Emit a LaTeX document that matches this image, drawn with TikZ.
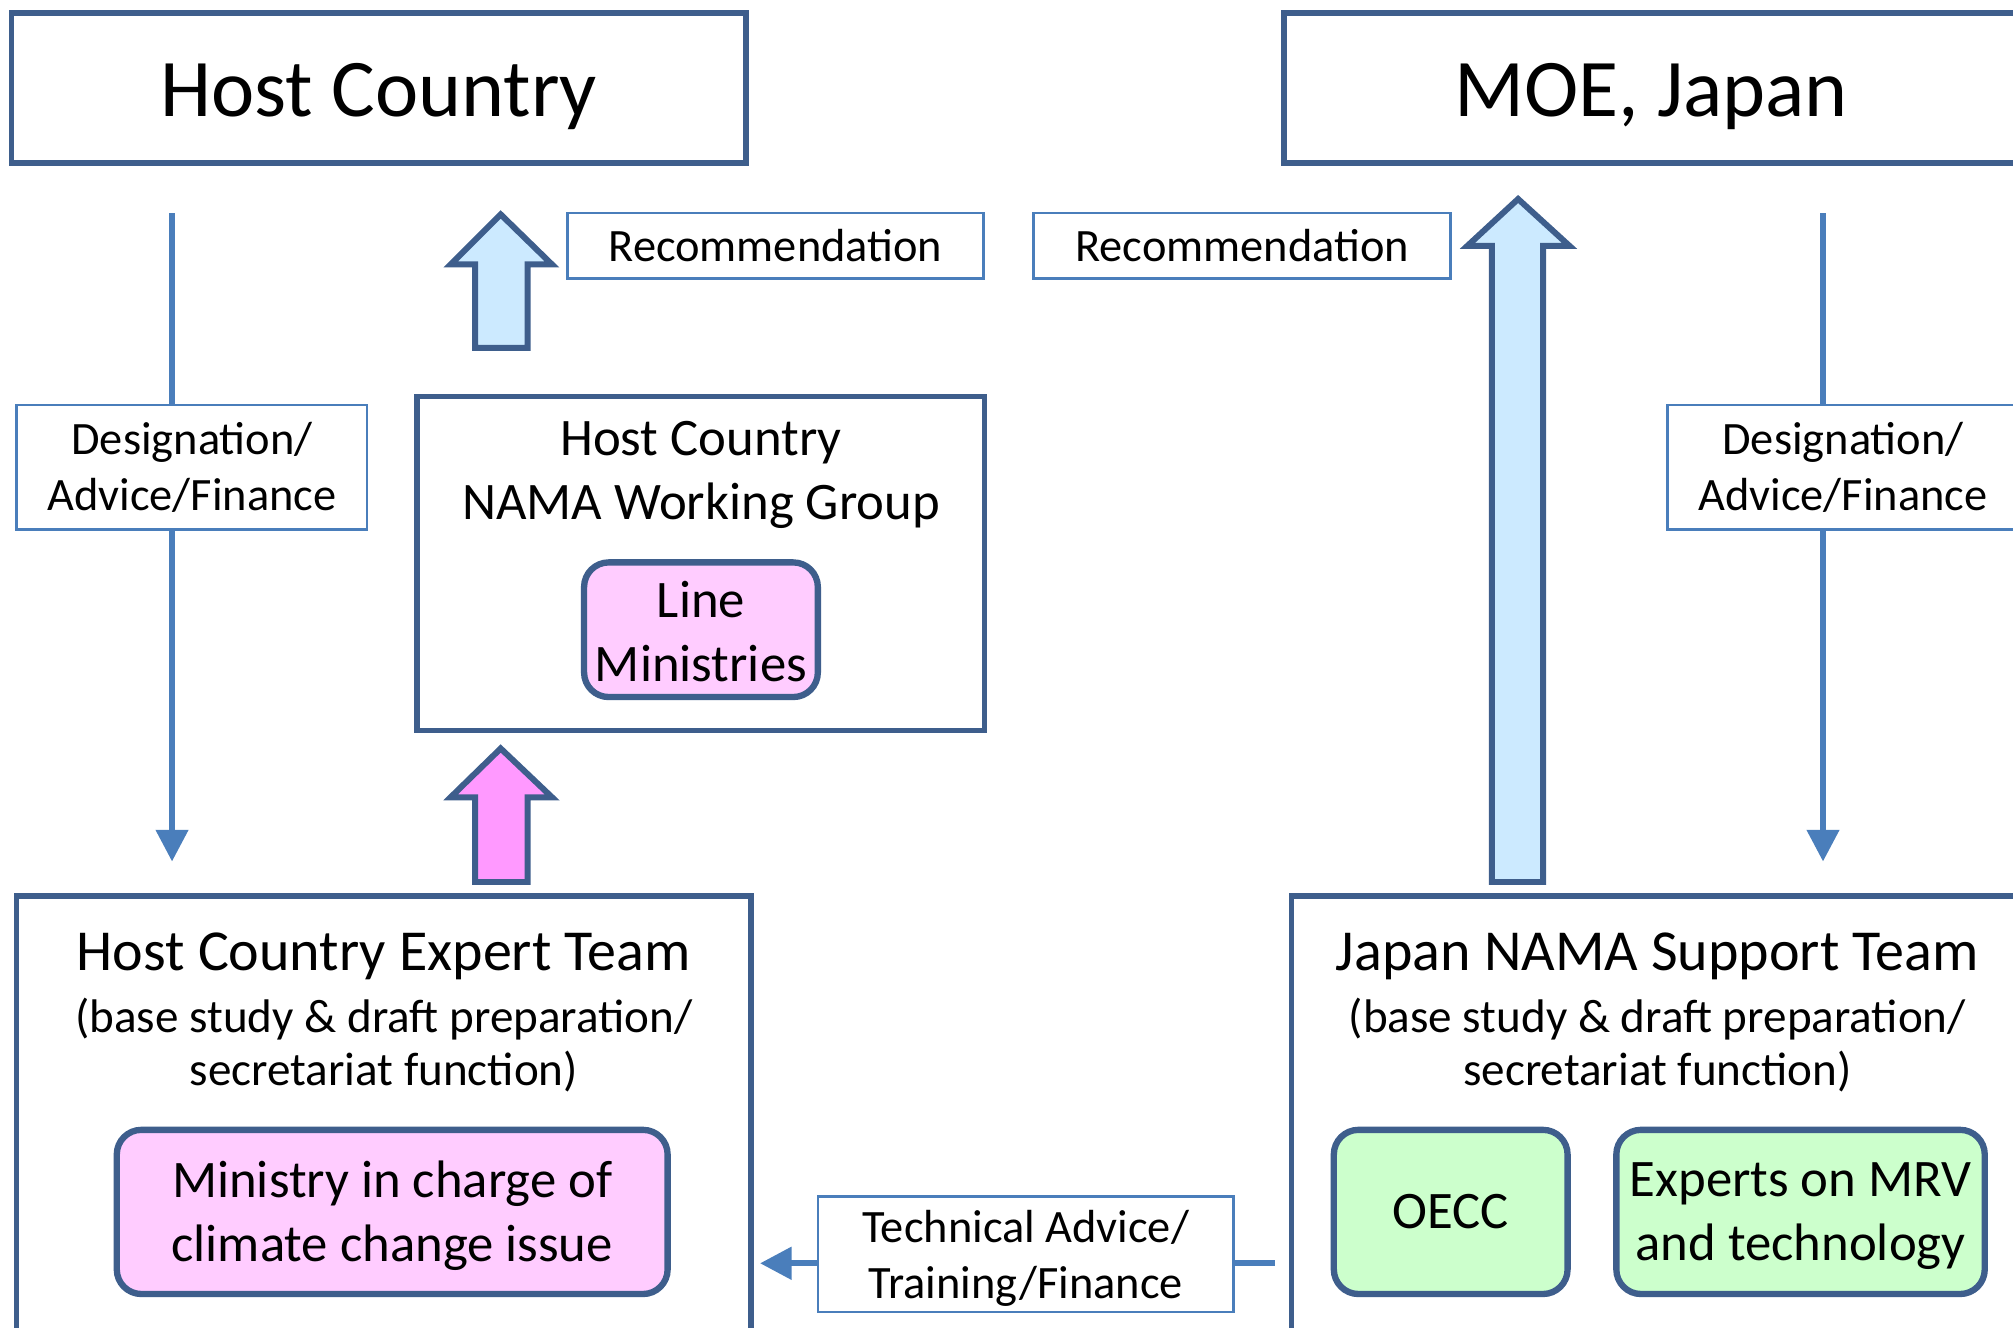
\documentclass[tikz,border=0pt]{standalone}
\usepackage{fontspec}
\setmainfont{Carlito}
\usetikzlibrary{arrows.meta}

\definecolor{edge}{RGB}{62,94,140}
\definecolor{wire}{RGB}{74,126,187}
\definecolor{sky}{RGB}{204,234,255}
\definecolor{rose}{RGB}{255,204,255}
\definecolor{roseup}{RGB}{255,153,255}
\definecolor{mint}{RGB}{204,255,204}

\begin{document}
\begin{tikzpicture}[x=0.3652pt, y=-0.3652pt]
\tikzset{ >={Triangle[width=9pt,length=9pt]}, inner sep=0pt, outer sep=0pt,
  frame/.style={draw=edge, line width=1.6pt, fill=white},
  tag/.style={draw=wire, line width=0.7pt, fill=white, align=center,
              font=\fontsize{13.2}{15.8}\selectfont},
  unit/.style={draw=edge, line width=1.8pt, rounded corners=7pt},
  unittext/.style={align=center, font=\fontsize{15}{18.3}\selectfont},
  flow/.style={draw=edge, line width=1.7pt, line join=miter},
  thin/.style={->, draw=wire, line width=1.6pt},
}

\useasboundingbox (0,0) rectangle (1568,1034.4);

%\draw [lightgray, dashed] (0,0) grid [step=100] (1568,1034);

% top level
\node [frame, minimum width=208.9pt, minimum height=42.7pt] (HC)  at ( 295,68.5) {};
\node [frame, minimum width=208.9pt, minimum height=42.7pt] (MOE) at (1286,68.5) {};
\node [font=\fontsize{23.3}{28}\selectfont, anchor=base] (HCt)  at ( 295,91) {Host Country};
\node [font=\fontsize{23.3}{28}\selectfont, anchor=base] (MOEt) at (1286,91) {MOE, Japan};

% thin arrows
\coordinate (L1) at ( 134,166);
\coordinate (L2) at ( 134,671);
\coordinate (R1) at (1420,166);
\coordinate (R2) at (1420,671);
\draw [thin] (L1) -- (L2);
\draw [thin] (R1) -- (R2);

\node [tag, minimum width=99.7pt, minimum height=35.4pt] (DesL) at ( 149.5,364) {Designation/\\Advice/Finance};
\node [tag, minimum width=99.7pt, minimum height=35.4pt] (DesR) at (1435.5,364) {Designation/\\Advice/Finance};

\node [tag, minimum width=118.3pt, minimum height=18.6pt] (RecL) at ( 604,191.5) {Recommendation};
\node [tag, minimum width=118.7pt, minimum height=18.6pt] (RecR) at (967.5,191.5) {Recommendation};

% block arrows
\draw [flow, fill=sky] (370,271) -- (370,206) -- (351,206) -- (390,167)
      -- (430,206) -- (411,206) -- (411,271) -- cycle;
\draw [flow, fill=roseup] (370,687) -- (370,621) -- (351,621) -- (390,583)
      -- (430,621) -- (411,621) -- (411,687) -- cycle;
\draw [flow, fill=sky] (1162,687) -- (1162,191.5) -- (1143,191.5) -- (1182.5,155)
      -- (1222.5,191.5) -- (1202,191.5) -- (1202,687) -- cycle;

% working group
\node [frame, minimum width=161.4pt, minimum height=95pt] (WG) at (546,439) {};
\node [unittext] (WGt) at (546,370) {Host Country\\NAMA Working Group};
\node [unit, fill=rose, minimum width=66.5pt, minimum height=38.3pt] (LMb) at (546,490.5) {};
\node [unittext] (LM) at (546,492) {Line\\Ministries};

% teams
\node [frame, minimum width=208.9pt, minimum height=131.5pt] (HCT) at ( 299,878) {};
\node [frame, minimum width=208.9pt, minimum height=131.5pt] (JST) at (1292,878) {};

\node [font=\fontsize{16.5}{20}\selectfont, anchor=base] (HCTt) at ( 299,756) {Host Country Expert Team};
\node [font=\fontsize{16.5}{20}\selectfont, anchor=base] (JSTt) at (1291,756) {Japan NAMA Support Team};
\node [align=center, font=\fontsize{13.4}{15.3}\selectfont] (HCTs) at ( 299,814) {(base study \& draft preparation/\\secretariat function)};
\node [align=center, font=\fontsize{13.4}{15.3}\selectfont] (JSTs) at (1291,814) {(base study \& draft preparation/\\secretariat function)};

\node [unit, fill=rose, minimum width=156.7pt, minimum height=46.7pt] (MINb) at ( 305.5,944) {};
\node [unit, fill=mint, minimum width=66.5pt,  minimum height=46.7pt] (OECC) at (1130,944) {};
\node [unit, fill=mint, minimum width=104.8pt, minimum height=46.7pt] (EXPb) at (1402.5,944) {};
\node [unittext] (MIN)   at ( 305.5,947) {Ministry in charge of\\climate change issue};
\node [unittext] (OECCt) at (1130,944)   {OECC};
\node [unittext] (EXP)   at (1402.5,947) {Experts on MRV\\and technology};

% support flow
\coordinate (T1) at (993,984);
\coordinate (T2) at (592,984);
\draw [->, draw=wire, line width=1.8pt] (T1) -- (T2);
\node [tag, minimum width=118.3pt, minimum height=32.9pt] (TECb) at (799,977) {};
\node [align=center, font=\fontsize{13.2}{15.8}\selectfont] (TEC) at (799,980) {Technical Advice/\\Training/Finance};

\end{tikzpicture}
\end{document}
